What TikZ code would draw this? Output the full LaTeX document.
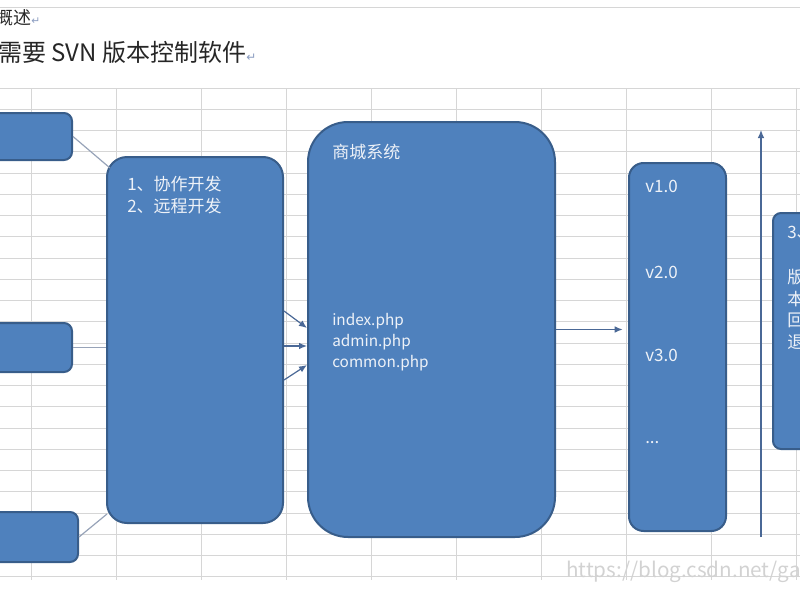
\documentclass[tikz,border=0pt]{standalone}
\usepackage{fontspec}
\setmainfont{Noto Sans CJK SC}
\newfontfamily\symfont{DejaVu Sans}
\usetikzlibrary{arrows.meta,calc}

\definecolor{boxblue}{HTML}{4F81BD}
\definecolor{boxedge}{HTML}{385D8A}
\definecolor{gridgray}{HTML}{D6D6D6}
\definecolor{linkgray}{HTML}{97A3B8}
\definecolor{arrowblue}{HTML}{4A6896}
\definecolor{boxtext}{HTML}{EEF2F8}
\definecolor{markblue}{HTML}{8A9CC0}

\begin{document}
\begin{tikzpicture}[
  x = 0.75pt, y = -0.75pt,
  box/.style = {
    shape = rectangle,
    fill = boxblue,
    draw = boxedge,
    line width = 1.5pt,
    inner sep = 0pt,
  },
  txt/.style = {
    text = boxtext,
    anchor = west,
    inner sep = 0pt,
    align = left,
    font = \fontsize{12.75pt}{16.5pt}\selectfont
  },
  head/.style = {
    text = black!85,
    anchor = west,
    inner sep = 0pt
  },
  gridline/.style = {
    draw = gridgray,
    line width = 0.75pt
  },
  link/.style = {
    draw = linkgray,
    line width = 0.9pt
  },
  arr/.style = {
    draw = arrowblue,
    line width = 0.9pt,
    -{Latex[length = 6pt, width = 5pt]}
  }
]
  \useasboundingbox (0, 0) rectangle (800, 600);
  \clip (0, 0) rectangle (800, 600);

  % sheet grid
  \draw[gridline] (0, 7) -- (800, 7);
  \foreach \gx in {0,...,9}
    \draw[gridline] (31 + 85*\gx, 88) -- (31 + 85*\gx, 580);
  \foreach \gy in {0,...,23}
    \draw[gridline] (0, 88 + 21.26*\gy) -- (800, 88 + 21.26*\gy);

  \node[head, font = \fontsize{13.5pt}{13.5pt}\selectfont] (intro) at (-5, 18)
    {概述{\symfont\fontsize{8pt}{8pt}\selectfont\color{markblue}↵}};
  \node[head, font = \fontsize{18pt}{18pt}\selectfont] (need) at (-2, 52)
    {需要 SVN 版本控制软件{\symfont\fontsize{9pt}{9pt}\selectfont\color{markblue}↵}};

  \node[box, minimum width = 76.5pt, minimum height = 35.25pt, rounded corners = 6pt] (dev1) at (21, 136.5) {};
  \node[box, minimum width = 76.5pt, minimum height = 36.75pt, rounded corners = 6pt] (dev2) at (21, 347.5) {};
  \node[box, minimum width = 81pt, minimum height = 37.5pt, rounded corners = 6pt] (dev3) at (24, 537) {};
  \node[box, minimum width = 132pt, minimum height = 274.5pt, rounded corners = 15pt] (team) at (195, 340) {};
  \node[box, minimum width = 185.25pt, minimum height = 311.25pt, rounded corners = 30pt] (shop) at (431.5, 329.5) {};
  \node[box, minimum width = 72.75pt, minimum height = 276pt, rounded corners = 11pt] (vers) at (677.5, 347) {};
  \node[box, minimum width = 42.75pt, minimum height = 177pt, rounded corners = 6pt] (back) at (801.5, 331) {};

  \draw[link] (dev1.east) -- ($(team.north west) + (4, 12)$);
  \draw[link] (dev2.east) -- (dev2.east -| team.west);
  \draw[link] (dev3.east) -- ($(team.south west) + (1, -10)$);

  \draw[arr] ($(team.east) + (0, -29)$) -- ($(shop.west) + (0, -1.5)$);
  \draw[arr] ($(team.east) + (0, 6)$) -- ($(shop.west) + (0, 16.5)$);
  \draw[arr] ($(team.east) + (0, 40)$) -- ($(shop.west) + (0, 35.5)$);
  \draw[arr, shorten > = 4pt] (shop.east) -- (shop.east -| vers.west);

  \coordinate (histlow) at (761, 537);
  \coordinate (histtop) at (761, 130);
  \draw[arr] (histlow) -- (histtop);

  \node[txt] (tasks) at (127, 195) {1、协作开发\\2、远程开发};
  \node[txt] (shopname) at (332, 152) {商城系统};
  \node[txt, font = \fontsize{11.5pt}{15.75pt}\selectfont] (files) at (332, 342)
    {index.php\\admin.php\\common.php};

  \node[txt] (v1) at (645, 186) {v1.0};
  \node[txt] (v2) at (645, 272) {v2.0};
  \node[txt] (v3) at (645, 355) {v3.0};
  \node[txt] (vmore) at (645, 443) {...};

  \node[txt] (step3) at (787, 233) {3、};
  \node[txt, font = \fontsize{12.75pt}{16.25pt}\selectfont] (rollback) at (787, 309.5) {版\\本\\回\\退};

  \node[anchor = west, inner sep = 0pt, text = gray!35, font = \fontsize{15.5pt}{15.5pt}\selectfont] (mark) at (566, 572)
    {https://blog.csdn.net/ga};
\end{tikzpicture}
\end{document}
